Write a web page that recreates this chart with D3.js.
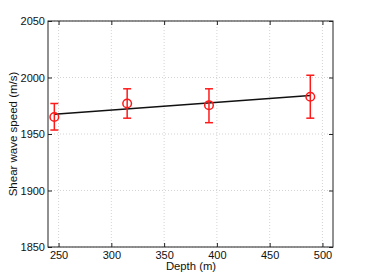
<!DOCTYPE html>
<html>
<head>
<meta charset="utf-8">
<script src="https://cdn.jsdelivr.net/npm/d3@7"></script>
<style>
body { margin: 0; background: #fff; }
</style>
</head>
<body>
<div class="chart"></div>
<script>
var depth = [246, 315, 392.5, 488.5];
var speed = [1965, 1977, 1975.5, 1983];
var errLow = [1953.5, 1964, 1960, 1964];
var errHigh = [1977, 1990, 1990, 2002];
var fitX = [246, 488.5];
var fitY = [1967.5, 1984];
var xTicks = [250, 300, 350, 400, 450, 500];
var yTicks = [1850, 1900, 1950, 2000, 2050];

var width = 368;
var height = 277;
var margin = {top: 21, right: 35, bottom: 30, left: 48};

var svg = d3.select(".chart")
  .append("svg")
    .attr("width", width)
    .attr("height", height);

var x = d3.scaleLinear().domain([240, 510]).range([margin.left, width - margin.right]);
var y = d3.scaleLinear().domain([1850, 2050]).range([height - margin.bottom, margin.top]);

// grid
svg.selectAll(".gx")
   .data(xTicks)
   .enter()
   .append("line")
    .attr("x1", function(d) { return x(d); })
    .attr("x2", function(d) { return x(d); })
    .attr("y1", y(1850))
    .attr("y2", y(2050))
    .attr("stroke", "#c8c8c8")
    .attr("stroke-width", 0.8)
    .attr("stroke-dasharray", "1,2");

svg.selectAll(".gy")
   .data(yTicks)
   .enter()
   .append("line")
    .attr("x1", x(240))
    .attr("x2", x(510))
    .attr("y1", function(d) { return y(d); })
    .attr("y2", function(d) { return y(d); })
    .attr("stroke", "#c8c8c8")
    .attr("stroke-width", 0.8)
    .attr("stroke-dasharray", "1,2");

// axes (ticks inward)
var font = "Liberation Sans, Arial, sans-serif";
function styleAxis(g) {
  g.select(".domain").remove();
  g.selectAll(".tick line").attr("stroke", "#222");
  g.selectAll(".tick text").attr("font-family", font).attr("font-size", "11px").attr("fill", "#111");
}

svg.append("g")
   .attr("transform", "translate(0," + y(1850) + ")")
   .call(d3.axisBottom(x).tickValues(xTicks).tickFormat(d3.format("d")).tickSizeInner(-4).tickSizeOuter(0).tickPadding(4))
   .call(styleAxis);

svg.append("g")
   .attr("transform", "translate(0," + y(2050) + ")")
   .call(d3.axisTop(x).tickValues(xTicks).tickSizeInner(-4).tickSizeOuter(0).tickFormat(""))
   .call(styleAxis);

svg.append("g")
   .attr("transform", "translate(" + x(240) + ",0)")
   .call(d3.axisLeft(y).tickValues(yTicks).tickFormat(d3.format("d")).tickSizeInner(-4).tickSizeOuter(0).tickPadding(3))
   .call(styleAxis);

svg.append("g")
   .attr("transform", "translate(" + x(510) + ",0)")
   .call(d3.axisRight(y).tickValues(yTicks).tickSizeInner(-4).tickSizeOuter(0).tickFormat(""))
   .call(styleAxis);

// box
svg.append("rect")
   .attr("x", x(240))
   .attr("y", y(2050))
   .attr("width", x(510) - x(240))
   .attr("height", y(1850) - y(2050))
   .attr("fill", "none")
   .attr("stroke", "#222")
   .attr("stroke-width", 1);

// fit line
svg.append("line")
   .attr("x1", x(fitX[0]))
   .attr("y1", y(fitY[0]))
   .attr("x2", x(fitX[1]))
   .attr("y2", y(fitY[1]))
   .attr("stroke", "#111")
   .attr("stroke-width", 1.5);

// error bars
var pts = depth.map(function(d, i) {
  return {x: d, y: speed[i], lo: errLow[i], hi: errHigh[i]};
});

var eb = svg.selectAll(".eb")
   .data(pts)
   .enter()
   .append("g")
    .attr("stroke", "#ff1a1a")
    .attr("stroke-width", 1.5)
    .attr("fill", "none");

eb.append("line")
  .attr("x1", function(d) { return x(d.x); })
  .attr("x2", function(d) { return x(d.x); })
  .attr("y1", function(d) { return y(d.lo); })
  .attr("y2", function(d) { return y(d.hi); });

eb.append("line")
  .attr("x1", function(d) { return x(d.x) - 4; })
  .attr("x2", function(d) { return x(d.x) + 4; })
  .attr("y1", function(d) { return y(d.lo); })
  .attr("y2", function(d) { return y(d.lo); });

eb.append("line")
  .attr("x1", function(d) { return x(d.x) - 4; })
  .attr("x2", function(d) { return x(d.x) + 4; })
  .attr("y1", function(d) { return y(d.hi); })
  .attr("y2", function(d) { return y(d.hi); });

eb.append("circle")
  .attr("cx", function(d) { return x(d.x); })
  .attr("cy", function(d) { return y(d.y); })
  .attr("r", 4.3);

// labels
svg.append("text")
   .text("Depth (m)")
   .attr("x", 191)
   .attr("y", 269.5)
   .attr("text-anchor", "middle")
   .attr("font-family", font)
   .attr("font-size", "11.3px")
   .attr("fill", "#111");

svg.append("text")
   .text("Shear wave speed (m/s)")
   .attr("transform", "translate(17," + y(1950) + ") rotate(-90)")
   .attr("text-anchor", "middle")
   .attr("font-family", font)
   .attr("font-size", "11.5px")
   .attr("fill", "#111");
</script>
</body>
</html>
